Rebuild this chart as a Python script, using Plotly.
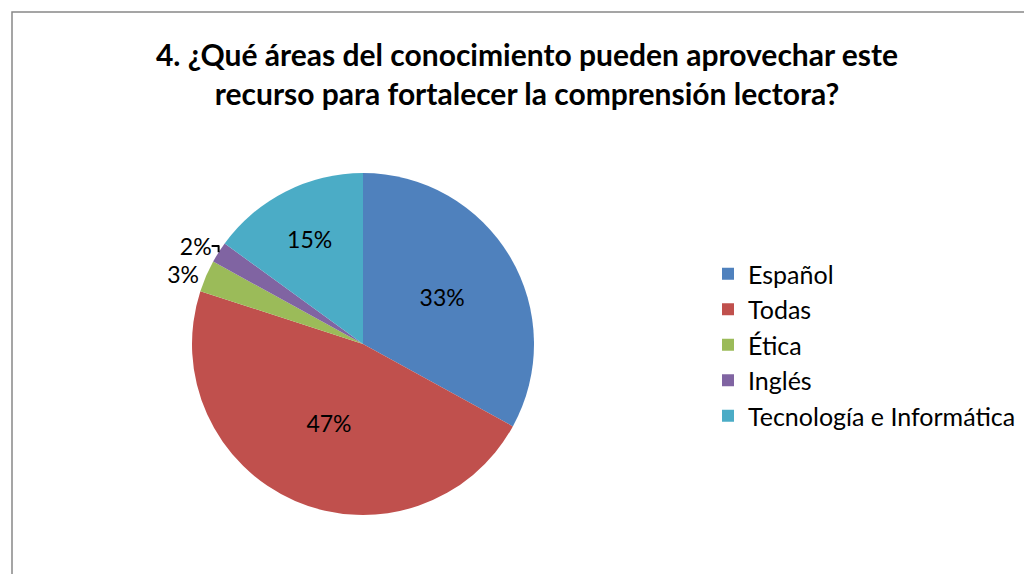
import plotly.graph_objects as go

categories = ["Español", "Todas", "Ética", "Inglés", "Tecnología e Informática"]
values = [33, 47, 3, 2, 15]
colors = ["#4F81BD", "#C0504D", "#9BBB59", "#8064A2", "#4BACC6"]
text_pos = ["inside", "inside", "outside", "outside", "inside"]

# page body has an 8px margin, so the figure is sized to fill the rest of the window
W, H = 1024, 566

fig = go.Figure(go.Pie(
    labels=categories,
    values=values,
    sort=False,
    direction="clockwise",
    rotation=0,
    marker=dict(colors=colors, line=dict(color="white", width=0)),
    texttemplate="%{percent:.0%}",
    textposition=text_pos,
    textfont=dict(family="Lato, Calibri, sans-serif", size=23, color="black"),
    insidetextorientation="horizontal",
    domain=dict(x=[184 / W, 526 / W], y=[1 - 507 / H, 1 - 165 / H]),
    hoverinfo="label+percent",
))

fig.update_layout(
    width=W,
    height=H,
    margin=dict(l=0, r=0, t=0, b=0),
    paper_bgcolor="white",
    plot_bgcolor="white",
    title=dict(
        text="<b>4. ¿Qué áreas del conocimiento pueden aprovechar este<br>recurso para fortalecer la comprensión lectora?</b>",
        x=519 / W,
        xanchor="center",
        y=1 - 58 / H,
        yanchor="middle",
        font=dict(family="Lato, Calibri, sans-serif", size=30, color="black"),
    ),
    legend=dict(
        x=700 / W,
        xanchor="left",
        y=1 - 243 / H,
        yanchor="top",
        font=dict(family="Lato, Calibri, sans-serif", size=25, color="black"),
        bgcolor="rgba(0,0,0,0)",
        itemwidth=30,
    ),
    shapes=[dict(
        type="rect", xref="paper", yref="paper",
        x0=4 / W, x1=1.02, y0=-0.02, y1=1 - 4 / H,
        line=dict(color="#888888", width=1.5),
        fillcolor="rgba(0,0,0,0)",
        layer="below",
    )],
)

fig.write_html("out.html")
